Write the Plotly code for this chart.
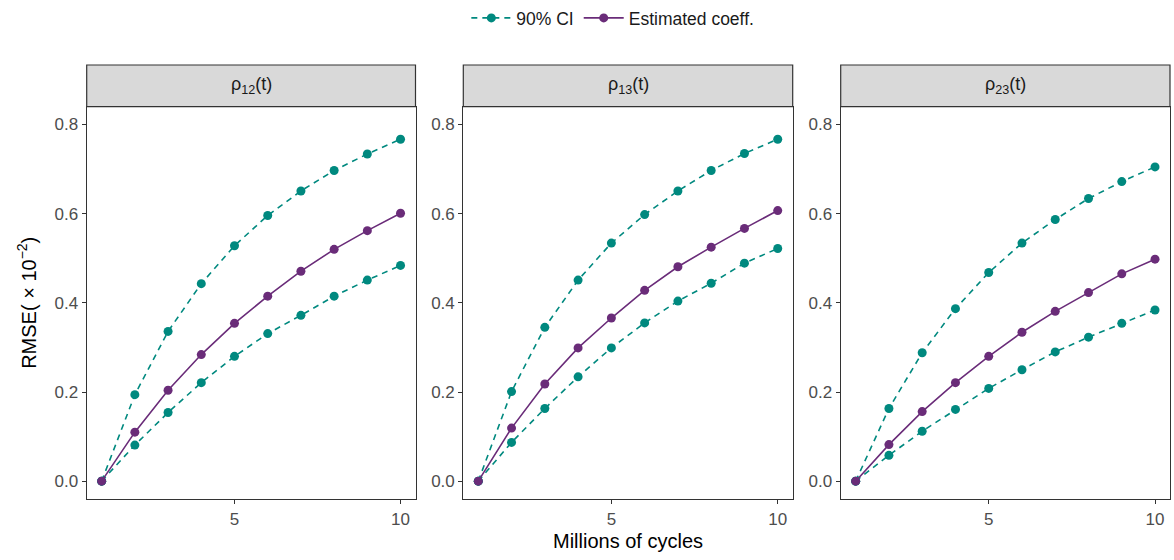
import plotly.graph_objects as go

cycles = [1, 2, 3, 4, 5, 6, 7, 8, 9, 10]
panels = ["ρ<sub>12</sub>(t)", "ρ<sub>13</sub>(t)", "ρ<sub>23</sub>(t)"]

est_12 = [0, 0.110, 0.204, 0.284, 0.354, 0.415, 0.471, 0.520, 0.562, 0.601]
up_12 = [0, 0.194, 0.336, 0.443, 0.528, 0.596, 0.651, 0.697, 0.734, 0.767]
lo_12 = [0, 0.081, 0.154, 0.221, 0.280, 0.331, 0.372, 0.415, 0.451, 0.484]

est_13 = [0, 0.119, 0.218, 0.299, 0.366, 0.428, 0.481, 0.525, 0.567, 0.607]
up_13 = [0, 0.201, 0.345, 0.451, 0.534, 0.598, 0.651, 0.697, 0.735, 0.767]
lo_13 = [0, 0.087, 0.163, 0.234, 0.299, 0.355, 0.404, 0.444, 0.489, 0.522]

est_23 = [0, 0.082, 0.156, 0.221, 0.280, 0.334, 0.381, 0.423, 0.465, 0.498]
up_23 = [0, 0.163, 0.288, 0.387, 0.468, 0.534, 0.587, 0.634, 0.672, 0.705]
lo_23 = [0, 0.058, 0.112, 0.161, 0.208, 0.250, 0.290, 0.323, 0.354, 0.384]

data = [(est_12, up_12, lo_12), (est_13, up_13, lo_13), (est_23, up_23, lo_23)]

TEAL = "#00897F"
PURPLE = "#6A2C79"
W, H = 1174, 560

x_doms = [(86.7, 415.5), (463.3, 792.7), (840.7, 1170.0)]
y_bot, y_top = 499.0, 106.7
strip_top = 65.0

fig = go.Figure()
font = "Liberation Sans, Arial, Helvetica, sans-serif"

for i, (est, up, lo) in enumerate(data):
    sfx = "" if i == 0 else str(i + 1)
    xa, ya = "x" + sfx, "y" + sfx
    for j, ci in enumerate([up, lo]):
        fig.add_trace(go.Scatter(
            x=cycles, y=ci, mode="lines+markers", xaxis=xa, yaxis=ya,
            line=dict(color=TEAL, width=1.6, dash="6px,5px"),
            marker=dict(color=TEAL, size=9),
            name="90% CI", legendgroup="ci",
            showlegend=(i == 0 and j == 0), legendrank=1))
    fig.add_trace(go.Scatter(
        x=cycles, y=est, mode="lines+markers", xaxis=xa, yaxis=ya,
        line=dict(color=PURPLE, width=1.6),
        marker=dict(color=PURPLE, size=9),
        name="Estimated coeff.", legendgroup="est",
        showlegend=(i == 0), legendrank=2))

layout = dict(
    width=W, height=H,
    margin=dict(l=0, r=0, t=0, b=0, autoexpand=False),
    paper_bgcolor="white", plot_bgcolor="white",
    font=dict(family=font, size=17, color="#4D4D4D"),
    showlegend=True,
    legend=dict(orientation="h", x=0.522, xanchor="center", y=1.0, yanchor="top",
                font=dict(size=17.5, color="#1A1A1A"), itemwidth=40,
                traceorder="normal"),
    shapes=[], annotations=[],
)

for i, (x0, x1) in enumerate(x_doms):
    sfx = "" if i == 0 else str(i + 1)
    layout["xaxis" + sfx] = dict(
        domain=[x0 / W, x1 / W], range=[0.55, 10.45],
        tickvals=[5, 10], ticktext=["5", "10"],
        ticks="outside", ticklen=4, tickwidth=1, tickcolor="#333333",
        showline=True, linecolor="#333333", linewidth=1.2, mirror=True,
        showgrid=False, zeroline=False,
        tickfont=dict(size=17, color="#4D4D4D"),
        anchor="y" + sfx)
    layout["yaxis" + sfx] = dict(
        domain=[1 - y_bot / H, 1 - y_top / H], range=[-0.04, 0.84],
        tickvals=[0, 0.2, 0.4, 0.6, 0.8], ticktext=["0.0", "0.2", "0.4", "0.6", "0.8"],
        ticks="outside", ticklen=4, tickwidth=1, tickcolor="#333333",
        showline=True, linecolor="#333333", linewidth=1.2, mirror=True,
        showgrid=False, zeroline=False,
        tickfont=dict(size=17, color="#4D4D4D"),
        anchor="x" + sfx)
    layout["shapes"].append(dict(
        type="rect", xref="paper", yref="paper",
        x0=x0 / W, x1=x1 / W, y0=1 - y_top / H, y1=1 - strip_top / H,
        fillcolor="#D9D9D9", line=dict(color="#333333", width=1.2), layer="above"))
    layout["annotations"].append(dict(
        text=panels[i], xref="paper", yref="paper",
        x=(x0 + x1) / 2 / W, y=1 - (strip_top + y_top) / 2 / H,
        xanchor="center", yanchor="middle", showarrow=False,
        font=dict(size=18, color="#1A1A1A")))

layout["annotations"].append(dict(
    text="Millions of cycles", xref="paper", yref="paper",
    x=(86.7 + 1170) / 2 / W, y=1 - 541 / H, xanchor="center", yanchor="middle",
    showarrow=False, font=dict(size=20, color="#000000")))
layout["annotations"].append(dict(
    text="RMSE( × 10<sup>−2</sup>)", xref="paper", yref="paper",
    x=27 / W, y=1 - (y_top + y_bot) / 2 / H, xanchor="center", yanchor="middle",
    textangle=-90, showarrow=False, font=dict(size=20, color="#000000")))

fig.update_layout(**layout)
fig.write_html("out.html")
